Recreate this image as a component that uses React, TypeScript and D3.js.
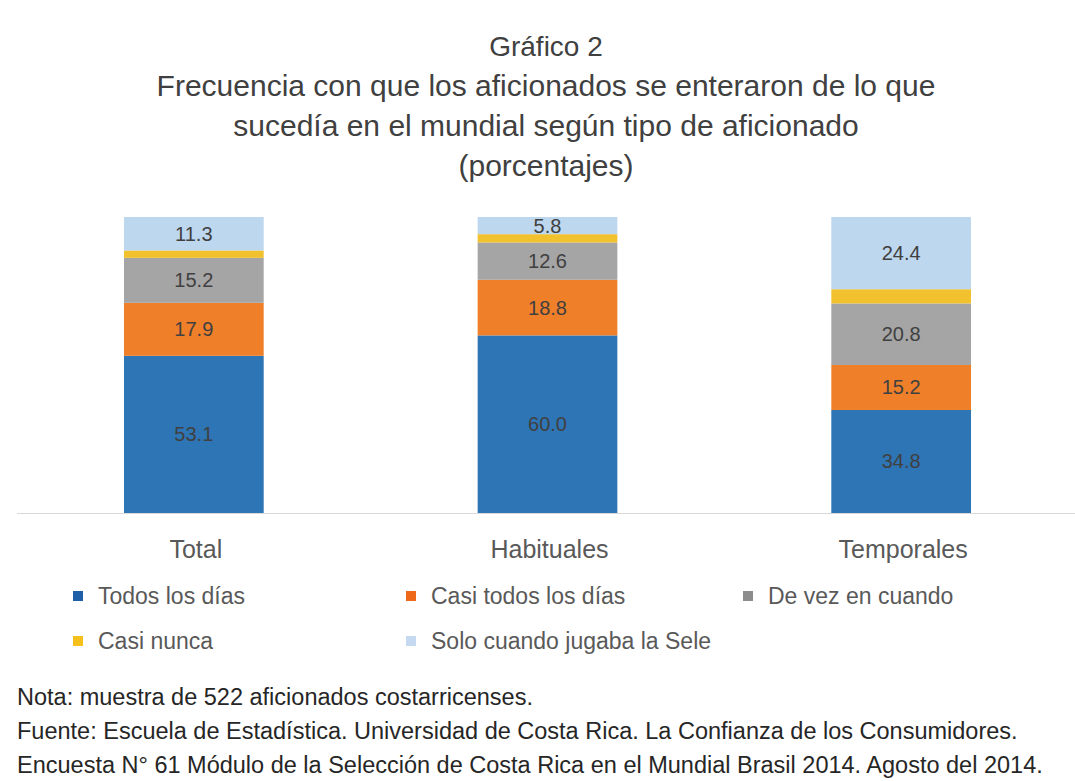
import React from "react";
import * as d3 from "d3";

const categories = ["Total", "Habituales", "Temporales"];
const seriesNames = ["Todos los días", "Casi todos los días", "De vez en cuando", "Casi nunca", "Solo cuando jugaba la Sele"];
const todosLosDias = [53.1, 60.0, 34.8];
const casiTodos = [17.9, 18.8, 15.2];
const deVezEnCuando = [15.2, 12.6, 20.8];
const casiNunca = [2.5, 2.8, 4.8];
const soloSele = [11.3, 5.8, 24.4];
const seriesColors = ["#2E75B6", "#F07F2A", "#A5A5A5", "#F2C12E", "#BDD7EE"];
const legendColors = ["#1F5FA8", "#EE6A1A", "#8C8C8C", "#F6C01C", "#C5D9F0"];
const titleLines = [
  "Gráfico 2",
  "Frecuencia con que los aficionados se enteraron de lo que",
  "sucedía en el mundial según tipo de aficionado",
  "(porcentajes)",
];
const footerLines = [
  "Nota: muestra de 522 aficionados costarricenses.",
  "Fuente: Escuela de Estadística. Universidad de Costa Rica. La Confianza de los Consumidores.",
  "Encuesta N° 61 Módulo de la Selección de Costa Rica en el Mundial Brasil 2014. Agosto del 2014.",
];

const W = 1075;
const H = 781;
const FONT = "'Liberation Sans', Arial, sans-serif";

export default function App() {
  const rows = categories.map((c, i) => ({
    cat: c,
    s0: todosLosDias[i],
    s1: casiTodos[i],
    s2: deVezEnCuando[i],
    s3: casiNunca[i],
    s4: soloSele[i],
  }));
  const keys = ["s0", "s1", "s2", "s3", "s4"];
  const stacked = d3.stack<any>().keys(keys)(rows);
  const x = d3.scaleBand().domain(categories).range([17, 1078]).paddingInner(0.605).paddingOuter(0.3025);
  const y = d3.scaleLinear().domain([0, 100]).range([513, 217]);

  const legendPos = [
    { x: 78, y: 596 },
    { x: 411, y: 596 },
    { x: 748, y: 596 },
    { x: 78, y: 641 },
    { x: 411, y: 641 },
  ];

  return (
    <svg width={W} height={H} style={{ position: "absolute", left: 0, top: 0, background: "#fff" }} fontFamily={FONT}>
      <rect width={W} height={H} fill="#fff" />
      {titleLines.map((t, i) => (
        <text key={i} x={546} y={56 + i * 40} textAnchor="middle" fontSize={i === 0 ? 28 : 30} fill="#404040">
          {t}
        </text>
      ))}
      {stacked.map((s, si) =>
        s.map((d, di) => {
          const v = d[1] - d[0];
          const bx = x(categories[di])!;
          return (
            <g key={`${si}-${di}`}>
              <rect x={bx} y={y(d[1])} width={x.bandwidth()} height={y(d[0]) - y(d[1])} fill={seriesColors[si]} />
              {si !== 3 && (
                <text
                  x={bx + x.bandwidth() / 2}
                  y={(y(d[0]) + y(d[1])) / 2 + 7}
                  textAnchor="middle"
                  fontSize={20}
                  fill="#404040"
                >
                  {v.toFixed(1)}
                </text>
              )}
            </g>
          );
        })
      )}
      <line x1={17} x2={1078} y1={y(0) + 0.5} y2={y(0) + 0.5} stroke="#D9D9D9" strokeWidth={1} />
      {categories.map((c) => (
        <text key={c} x={x(c)! + x.bandwidth() / 2 + 2} y={558} textAnchor="middle" fontSize={25} fill="#595959">
          {c}
        </text>
      ))}
      {seriesNames.map((n, i) => (
        <g key={n}>
          <rect x={legendPos[i].x - 5} y={legendPos[i].y - 5} width={10} height={10} fill={legendColors[i]} />
          <text x={legendPos[i].x + 20} y={legendPos[i].y + 8} fontSize={23} fill="#595959">
            {n}
          </text>
        </g>
      ))}
      {footerLines.map((t, i) => (
        <text key={i} x={17} y={705 + i * 34} fontSize={23.5} fill="#262626">
          {t}
        </text>
      ))}
    </svg>
  );
}
